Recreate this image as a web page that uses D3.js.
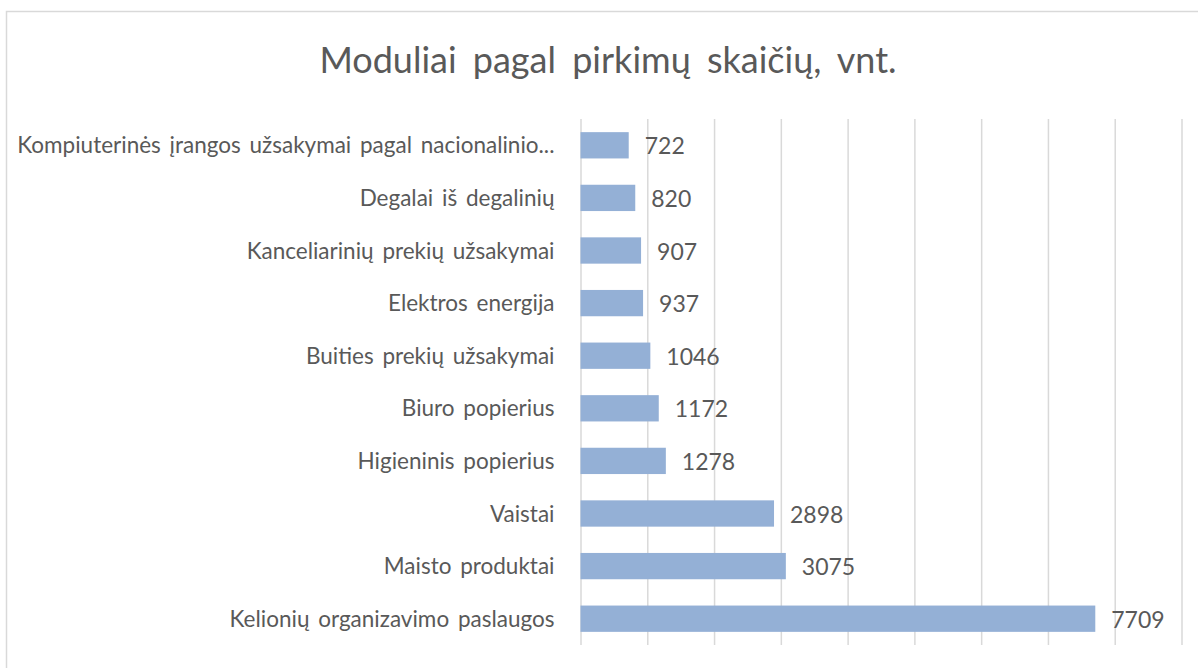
<!DOCTYPE html>
<html>
<head>
<meta charset="utf-8">
<script src="https://cdn.jsdelivr.net/npm/d3@7"></script>
<style>
  body { margin: 0; background: #fff; }
  svg { display: block; }
</style>
</head>
<body>
<svg id="chart" width="1198" height="668"></svg>
<script>
// Categories from top to bottom, as in the picture.
const categories = [
  "Kompiuterinės įrangos užsakymai pagal nacionalinio...",
  "Degalai iš degalinių",
  "Kanceliarinių prekių užsakymai",
  "Elektros energija",
  "Buities prekių užsakymai",
  "Biuro popierius",
  "Higieninis popierius",
  "Vaistai",
  "Maisto produktai",
  "Kelionių organizavimo paslaugos"
];
const purchases = [722, 820, 907, 937, 1046, 1172, 1278, 2898, 3075, 7709];
const gridTicks = [0, 1000, 2000, 3000, 4000, 5000, 6000, 7000, 8000, 9000];
const title = "Moduliai pagal pirkimų skaičių, vnt.";

const data = categories.map((c, i) => ({ name: c, value: purchases[i] }));

const svg = d3.select("#chart");
const textColor = "#595959";
const font = "Lato, 'Noto Sans', sans-serif";

// Chart border (cut off on the right and bottom like the picture).
svg.append("rect")
  .attr("x", 6.5).attr("y", 11.5)
  .attr("width", 1260).attr("height", 720)
  .attr("fill", "#fff")
  .attr("stroke", "#d9d9d9")
  .attr("stroke-width", 1.5);

// Plot area.
const plotTop = 119, plotBottom = 645, plotLeft = 580.5, plotRight = 1181.5;

const x = d3.scaleLinear().domain([0, 9000]).range([plotLeft, plotRight]);
const y = d3.scaleBand().domain(categories).range([plotTop, plotBottom])
  .paddingInner(0.5).paddingOuter(0.25);

// Vertical gridlines from an axis with long ticks and no labels.
const grid = svg.append("g")
  .attr("transform", `translate(0,${plotBottom})`)
  .call(d3.axisBottom(x).tickValues(gridTicks).tickSize(-(plotBottom - plotTop)).tickFormat(""));
grid.select(".domain").remove();
grid.selectAll(".tick line")
  .attr("stroke", "#d9d9d9")
  .attr("stroke-width", 1.5);

// Title.
svg.append("text")
  .attr("x", 608).attr("y", 73)
  .attr("text-anchor", "middle")
  .attr("font-family", font)
  .attr("font-size", 36)
  .attr("word-spacing", 7)
  .attr("fill", textColor)
  .text(title);

// Bars.
svg.append("g")
  .selectAll("rect")
  .data(data)
  .enter()
  .append("rect")
  .attr("x", x(0))
  .attr("y", d => y(d.name))
  .attr("width", d => x(d.value) - x(0))
  .attr("height", y.bandwidth())
  .attr("fill", "#94B0D6");

// Category labels.
svg.append("g")
  .selectAll("text")
  .data(data)
  .enter()
  .append("text")
  .attr("x", plotLeft - 26)
  .attr("y", d => y(d.name) + y.bandwidth() / 2 + 8)
  .attr("text-anchor", "end")
  .attr("font-family", font)
  .attr("font-size", 22.5)
  .attr("word-spacing", 3)
  .attr("fill", textColor)
  .text(d => d.name);

// Value labels.
svg.append("g")
  .selectAll("text")
  .data(data)
  .enter()
  .append("text")
  .attr("x", d => x(d.value) + 16)
  .attr("y", d => y(d.name) + y.bandwidth() / 2 + 9)
  .attr("font-family", font)
  .attr("font-size", 23)
  .attr("fill", textColor)
  .text(d => d.value);
</script>
</body>
</html>
